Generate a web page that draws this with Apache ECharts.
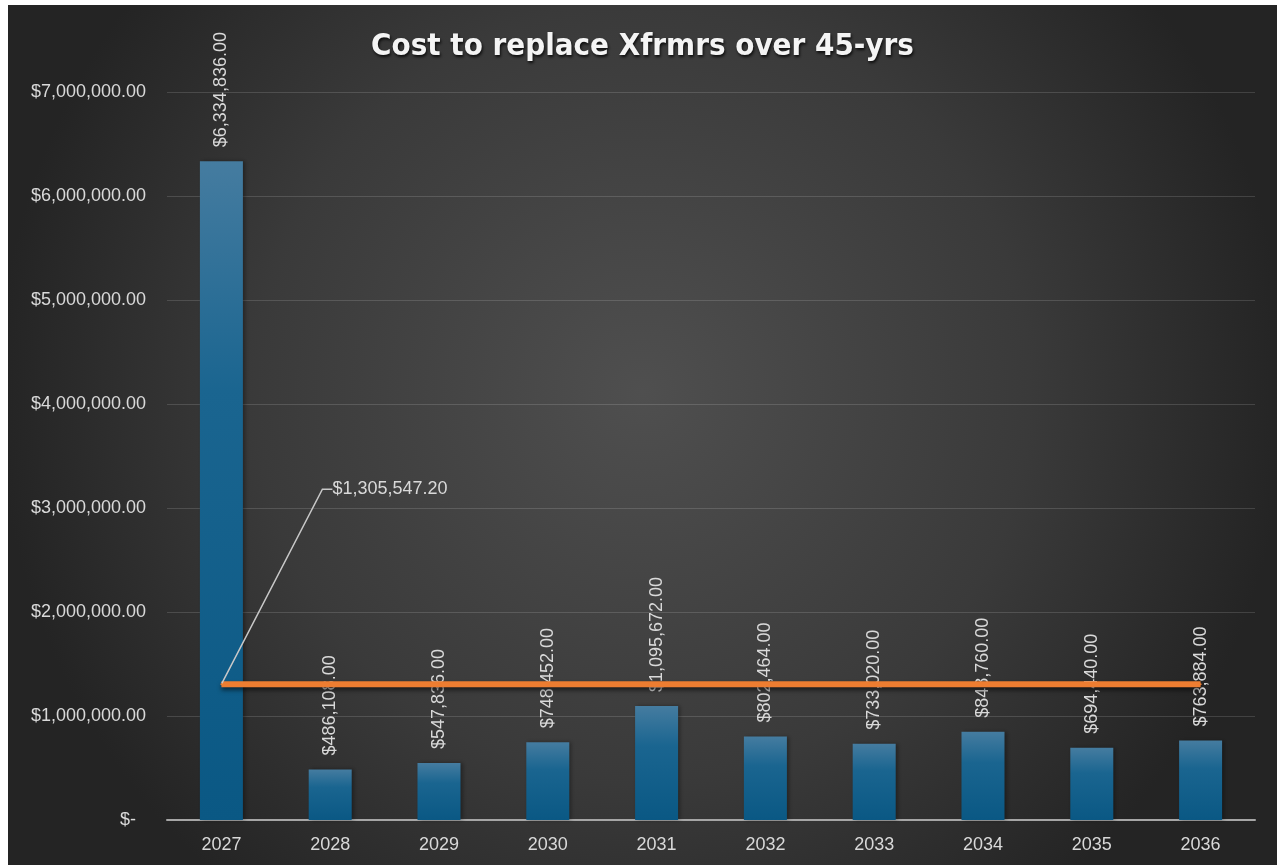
<!DOCTYPE html>
<html>
<head>
<meta charset="utf-8">
<script src="https://cdn.jsdelivr.net/npm/echarts@6/dist/echarts.min.js"></script>
<style>
html,body{margin:0;padding:0;background:#ffffff;}
#chart{position:absolute;left:8px;top:5px;width:1269px;height:860px;}
</style>
</head>
<body>
<div id="chart"></div>
<script>
var categories = ['2027','2028','2029','2030','2031','2032','2033','2034','2035','2036'];
var costValues = [6334836, 486108, 547836, 748452, 1095672, 802464, 733020, 848760, 694440, 763884];
var averageValues = [1305547.2, 1305547.2, 1305547.2, 1305547.2, 1305547.2, 1305547.2, 1305547.2, 1305547.2, 1305547.2, 1305547.2];
var titleText = 'Cost to replace Xfrmrs over 45-yrs';

function money(v){
  return '$' + Number(v).toLocaleString('en-US',{minimumFractionDigits:2, maximumFractionDigits:2});
}

var chart = echarts.init(document.getElementById('chart'));
var labelColor = '#d9d9d9';
var font = '"Liberation Sans", Arial, sans-serif';

var lineData = averageValues.map(function(v,i){
  return i===0 ? {value:v, label:{show:true}} : v;
});

chart.setOption({
  backgroundColor: {
    type:'radial', x:0.5, y:0.45, r:0.75,
    colorStops:[{offset:0,color:'#4f4f4f'},{offset:0.6,color:'#3a3a3a'},{offset:1,color:'#242424'}]
  },
  animation:false,
  title:{
    text:titleText, left:'center', top:21,
    textStyle:{
      color:'#f4f4f4', fontSize:31, fontWeight:'bold',
      fontFamily:'"DejaVu Sans Condensed", "DejaVu Sans", sans-serif',
      textShadowColor:'rgba(0,0,0,0.8)', textShadowBlur:3, textShadowOffsetX:1, textShadowOffsetY:2
    }
  },
  grid:{left:159, right:22, top:87, bottom:45, containLabel:false},
  xAxis:{
    type:'category', data:categories,
    axisLine:{show:true, lineStyle:{color:'#a6a6a6', width:2}},
    axisTick:{show:false},
    axisLabel:{color:labelColor, fontSize:18, fontFamily:font, margin:16}
  },
  yAxis:{
    type:'value', min:0, max:7000000, interval:1000000,
    axisLine:{show:false}, axisTick:{show:false},
    splitLine:{lineStyle:{color:'rgba(255,255,255,0.14)', width:1}},
    axisLabel:{
      color:labelColor, fontSize:18, fontFamily:font, margin:21,
      formatter:function(v){ return v===0 ? '$-  ' : money(v); }
    }
  },
  series:[
    {
      type:'bar', data:costValues, barWidth:43,
      itemStyle:{
        color:{type:'linear', x:0,y:0,x2:0,y2:1,
          colorStops:[{offset:0,color:'#457ca0'},{offset:0.35,color:'#1a6590'},{offset:1,color:'#0a5884'}]},
        shadowColor:'rgba(0,0,0,0.35)', shadowBlur:4, shadowOffsetX:2, shadowOffsetY:0
      },
      label:{
        show:true, position:'top', rotate:90, distance:14, align:'left', verticalAlign:'middle',
        color:labelColor, fontSize:18, fontFamily:font,
        formatter:function(p){ return money(p.value); }
      },
      z:2
    },
    {
      type:'line', data:lineData,
      symbol:'circle', symbolSize:2, showSymbol:true,
      itemStyle:{color:'#ed7d31'},
      lineStyle:{color:'#ed7d31', width:6, shadowColor:'rgba(0,0,0,0.55)', shadowBlur:4, shadowOffsetY:3},
      label:{show:false, position:'right', color:labelColor, fontSize:18, fontFamily:font,
        padding:[0,0,0,7],
        formatter:function(p){return money(p.value);}},
      labelLine:{show:true, length2:10, lineStyle:{color:'#c8c8c8', width:1.5}},
      labelLayout:function(params){
        if(params.dataIndex!==0) return {};
        return {x: params.rect.x + 105, y: params.rect.y - 194, align:'left', verticalAlign:'middle'};
      },
      z:3
    }
  ]
});
</script>
</body>
</html>
